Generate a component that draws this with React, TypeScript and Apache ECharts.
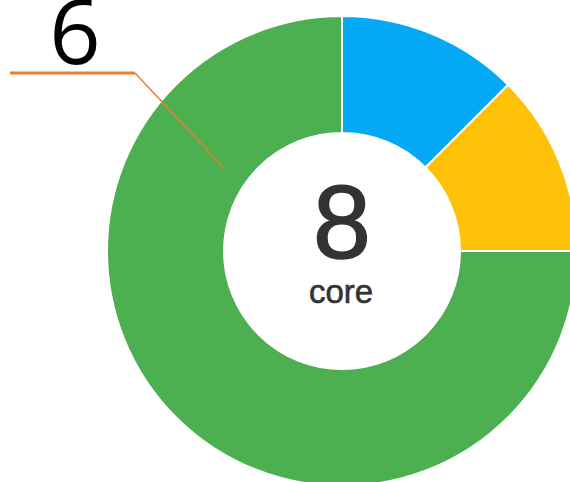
import React, { useEffect, useRef } from "react";
import * as echarts from "echarts";

const categories = ["A", "B", "C"];
const values = [1, 1, 6];
const colors = ["#03A9F4", "#FFC107", "#4CAF50"];
const centerValue = "8";
const centerUnit = "core";
const calloutLabel = "6";

export default function App() {
  const ref = useRef<HTMLDivElement>(null);
  useEffect(() => {
    if (!ref.current) return;
    const chart = echarts.init(ref.current, undefined, { renderer: "svg" });
    chart.setOption({
      animation: false,
      backgroundColor: "#ffffff",
      series: [
        {
          type: "pie",
          center: [342, 251],
          radius: [118, 235],
          startAngle: 90,
          clockwise: true,
          label: { show: false },
          labelLine: { show: false },
          emphasis: { disabled: true },
          itemStyle: { borderColor: "#ffffff", borderWidth: 2 },
          data: categories.map((c, i) => ({
            name: c,
            value: values[i],
            itemStyle: { color: colors[i] },
          })),
        },
      ],
      graphic: [
        {
          type: "text",
          z: 100,
          x: 342,
          y: 222,
          style: {
            text: centerValue,
            font: "104px 'Liberation Sans', Arial, sans-serif",
            fill: "#333333",
            stroke: "#333333",
            lineWidth: 1.5,
            align: "center",
            verticalAlign: "middle",
            lineHeight: 80,
          },
        },
        {
          type: "text",
          z: 100,
          x: 341,
          y: 291,
          style: {
            text: centerUnit,
            font: "33px 'Liberation Sans', Arial, sans-serif",
            fill: "#333333",
            stroke: "#333333",
            lineWidth: 0.6,
            align: "center",
            verticalAlign: "middle",
            lineHeight: 28,
          },
        },
        {
          type: "text",
          z: 100,
          x: 75,
          y: 29,
          style: {
            text: calloutLabel,
            font: "90px 'Open Sans', sans-serif",
            fill: "#000000",
            align: "center",
            verticalAlign: "middle",
            lineHeight: 58,
          },
        },
        {
          type: "line",
          z: 100,
          shape: { x1: 10, y1: 73, x2: 135, y2: 73 },
          style: { stroke: "#ED7D31", lineWidth: 3 },
        },
        {
          type: "line",
          z: 100,
          shape: { x1: 135, y1: 73, x2: 223, y2: 167 },
          style: { stroke: "#ED7D31", lineWidth: 1.5 },
        },
      ],
    });
    return () => chart.dispose();
  }, []);
  return (
    <div
      ref={ref}
      style={{ position: "fixed", left: 0, top: 0, width: 570, height: 482 }}
    />
  );
}
